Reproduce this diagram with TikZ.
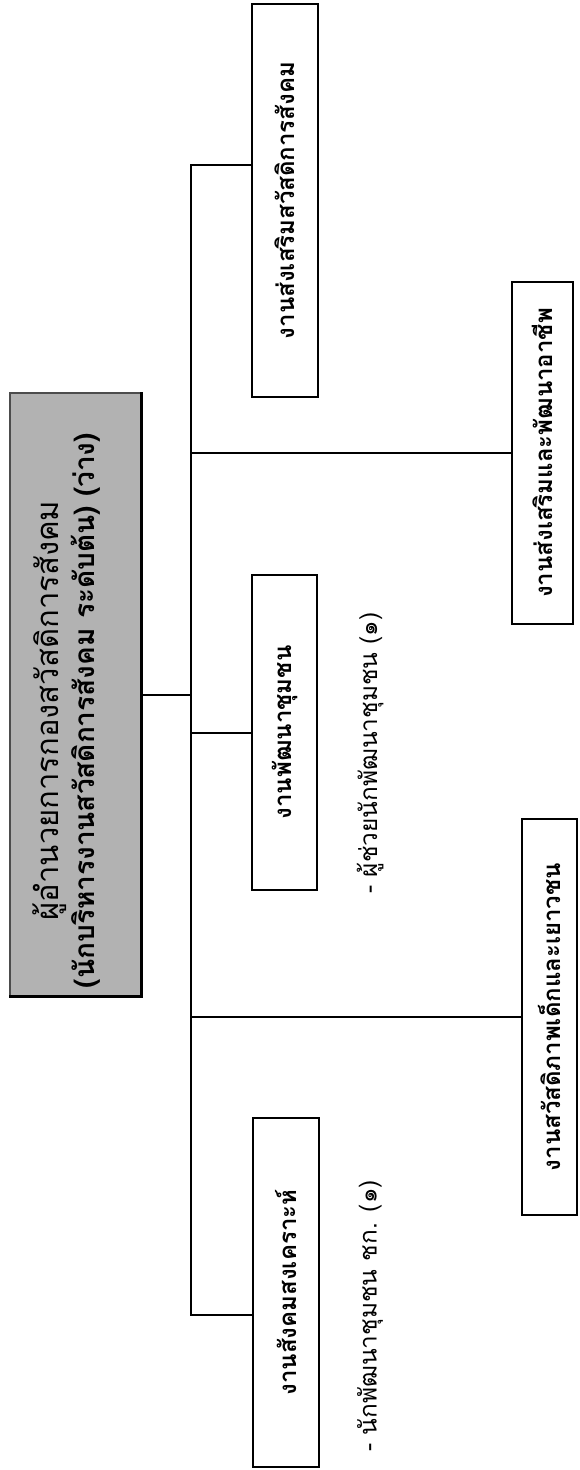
\documentclass[tikz,border=0pt]{standalone}
\usepackage{fontspec}
\usepackage{tikz}
\usetikzlibrary{calc, positioning}
\newfontfamily\thaifont[Script=Thai]{Loma}
\tikzset{
    boxnode/.style = {draw, rectangle, fill=white, rotate=90, line width=1.2pt, inner sep=0em,
      font=\thaifont\bfseries\fontsize{12}{14}\selectfont},
    headnode/.style = {draw=black!70, rectangle, fill=black!30, rotate=90, line width=0.6pt, inner sep=0em,
      font=\thaifont\fontsize{14}{18}\selectfont},
    textnode/.style = {draw=none, fill=none, rectangle, rotate=90, inner sep=0em,
      font=\thaifont\fontsize{12.2}{14}\selectfont},
    connect/.style = {black, -, line width=1pt},
    every text node part/.style={align=center}
}
\begin{document}
\begin{tikzpicture}[x=0.5pt, y=-0.5pt]
    \useasboundingbox (0,0) rectangle (579,1470);
    \node[headnode, name=G, minimum width=301.5pt, minimum height=65.5pt, text depth=12pt] at (75.5,694.5)
        {{\fontsize{15.5}{18}\selectfont ผู้อำนวยการกองสวัสดิการสังคม\hspace*{16pt}}\\
         {\bfseries (นักบริหารงานสวัสดิการสังคม ระดับต้น) (ว่าง)\hspace*{16pt}}};
    \draw[line width=1.4pt] (G.north west) -- (G.south west) -- (G.south east);
    \node[boxnode, name=A, minimum width=196.5pt, minimum height=33pt] at (285,200.5) {งานส่งเสริมสวัสดิการสังคม};
    \node[boxnode, name=B, minimum width=157.5pt, minimum height=32.5pt] at (284.5,732.5) {งานพัฒนาชุมชน};
    \node[boxnode, name=C, minimum width=174.5pt, minimum height=33pt] at (286,1292.5) {งานสังคมสงเคราะห์};
    \node[boxnode, name=D, minimum width=171pt, minimum height=30.5pt] at (542.5,453) {งานส่งเสริมและพัฒนาอาชีพ};
    \node[boxnode, name=E, minimum width=198pt, minimum height=27.5pt] at (549.5,1017) {งานสวัสดิภาพเด็กและเยาวชน};
    \node[textnode, name=NB] at (370,753) {- ผู้ช่วยนักพัฒนาชุมชน (๑)};
    \node[textnode, name=NC] at (370,1316) {- นักพัฒนาชุมชน ชก. (๑)};
    \coordinate (bustop) at (191,165);
    \coordinate (busbot) at (191,1315);
    \draw[connect] (bustop -| A.north) -- (bustop) -- (busbot) -- (busbot -| C.north);
    \draw[connect] (G.south) -- (G.south -| bustop);
    \draw[connect] (B.north -| bustop) -- (B.north);
    \draw[connect] (D.north -| bustop) -- (D.north);
    \draw[connect] (E.north -| bustop) -- (E.north);
\end{tikzpicture}
\end{document}
